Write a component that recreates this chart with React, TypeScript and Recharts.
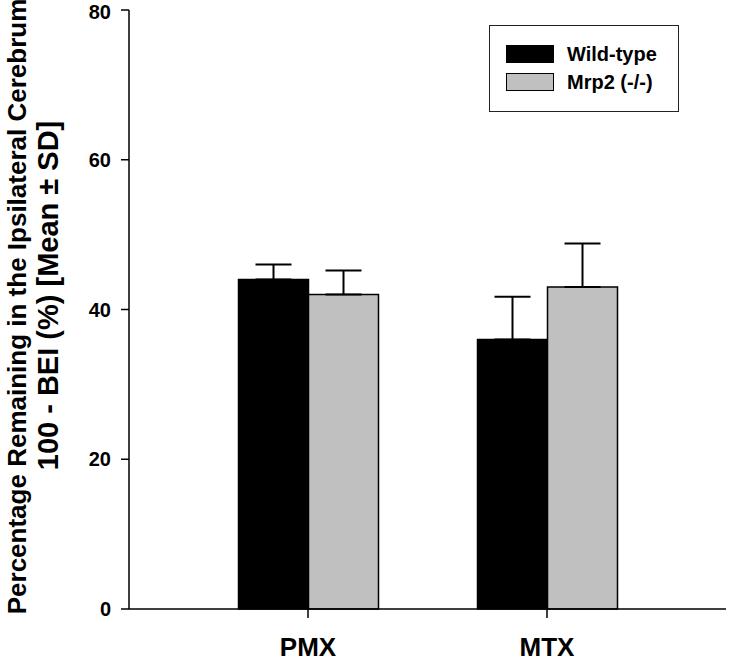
import React from "react";
import { BarChart, Bar, XAxis, YAxis, ErrorBar } from "recharts";

const categories = ["PMX", "MTX"];
const wildType = [44, 36];
const wildTypeSd = [2, 5.7];
const mrp2 = [42, 43];
const mrp2Sd = [3.2, 5.8];
const yTicks = [0, 20, 40, 60, 80];

const seriesNames = ["Wild-type", "Mrp2 (-/-)"];
const seriesFills = ["#000000", "#c0c0c0"];

const FONT = "'Liberation Sans', Arial, sans-serif";

const data = categories.map((name, i) => ({
  name,
  wt: wildType[i],
  wtErr: [0, wildTypeSd[i]],
  ko: mrp2[i],
  koErr: [0, mrp2Sd[i]],
}));

const YLabel = ({ viewBox }: any) => {
  const cy = viewBox.y + viewBox.height / 2;
  const x1 = viewBox.x + 17;
  const x2 = viewBox.x + 48;
  const y1 = cy - 3;
  const y2 = cy - 14;
  const common = {
    textAnchor: "middle" as const,
    dominantBaseline: "central" as const,
    fontFamily: FONT,
    fontWeight: 700,
    fill: "#000",
  };
  return (
    <g>
      <text x={x1} y={y1} fontSize={26} transform={`rotate(-90 ${x1} ${y1})`} {...common}>
        Percentage Remaining in the Ipsilateral Cerebrum
      </text>
      <text x={x2} y={y2} fontSize={29} transform={`rotate(-90 ${x2} ${y2})`} {...common}>
        100 - BEI (%) [Mean ± SD]
      </text>
    </g>
  );
};

function LegendBox() {
  return (
    <div
      style={{
        position: "absolute",
        left: 489,
        top: 25,
        width: 190,
        height: 87,
        boxSizing: "border-box",
        border: "1.5px solid #222",
        background: "#fff",
        fontFamily: FONT,
        fontWeight: 700,
        fontSize: 20,
      }}
    >
      {seriesNames.map((n, i) => (
        <div
          key={n}
          style={{
            position: "absolute",
            left: 16,
            top: 19 + i * 28,
            display: "flex",
            alignItems: "center",
            height: 18,
          }}
        >
          <span
            style={{
              display: "inline-block",
              width: 48,
              height: 18,
              boxSizing: "border-box",
              background: seriesFills[i],
              border: "1.5px solid #000",
              marginRight: 13,
            }}
          />
          <span style={{ whiteSpace: "nowrap" }}>{n}</span>
        </div>
      ))}
    </div>
  );
}

export default function App() {
  const tickStyle = { fontFamily: FONT, fontWeight: 700, fill: "#000" };
  return (
    <div style={{ position: "absolute", left: 0, top: 0, width: 730, height: 661, background: "#fff" }}>
      <BarChart
        width={730}
        height={661}
        data={data}
        barGap={0}
        barSize={70}
        margin={{ top: 10, right: 4, bottom: 0, left: 0 }}
      >
        <XAxis
          dataKey="name"
          padding={{ left: 59.5, right: 59.5 }}
          height={52}
          tickSize={9}
          tickMargin={20}
          axisLine={{ stroke: "#000", strokeWidth: 1.5 }}
          tickLine={{ stroke: "#000", strokeWidth: 1.5 }}
          tick={{ ...tickStyle, fontSize: 26 }}
        />
        <XAxis
          xAxisId="top"
          dataKey="name"
          orientation="top"
          height={0}
          tick={false}
          tickLine={false}
          axisLine={{ stroke: "#000", strokeWidth: 1.5 }}
        />
        <YAxis
          domain={[0, 80]}
          ticks={yTicks}
          width={129}
          tickSize={8}
          tickMargin={10}
          axisLine={{ stroke: "#000", strokeWidth: 1.5 }}
          tickLine={{ stroke: "#000", strokeWidth: 1.5 }}
          tick={{ ...tickStyle, fontSize: 20 }}
          label={{ content: YLabel }}
        />
        <YAxis
          yAxisId="right"
          orientation="right"
          domain={[0, 80]}
          width={0}
          tick={false}
          tickLine={false}
          axisLine={{ stroke: "#000", strokeWidth: 1.5 }}
        />
        <Bar dataKey="wt" name={seriesNames[0]} fill={seriesFills[0]} stroke="#000" strokeWidth={1.5} isAnimationActive={false}>
          <ErrorBar dataKey="wtErr" direction="y" width={18} stroke="#000" strokeWidth={2} />
        </Bar>
        <Bar dataKey="ko" name={seriesNames[1]} fill={seriesFills[1]} stroke="#000" strokeWidth={1.5} isAnimationActive={false}>
          <ErrorBar dataKey="koErr" direction="y" width={18} stroke="#000" strokeWidth={2} />
        </Bar>
      </BarChart>
      <LegendBox />
    </div>
  );
}
